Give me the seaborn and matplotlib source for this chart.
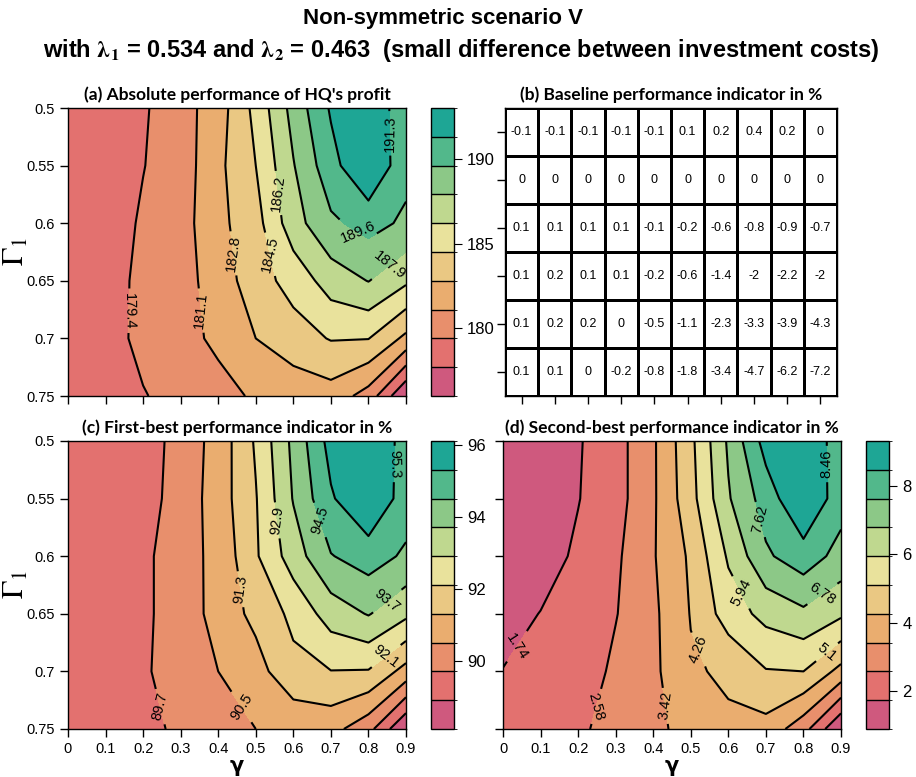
import numpy as np
import pandas as pd
import seaborn as sns
import matplotlib
matplotlib.use('Agg')
import matplotlib.pyplot as plt
from matplotlib.colors import ListedColormap, BoundaryNorm

sns.set_style('ticks')
plt.rcParams['font.family'] = ['Liberation Sans', 'DejaVu Sans']
plt.rcParams['mathtext.fontset'] = 'stix'
for k in ['text.color', 'axes.labelcolor', 'xtick.color', 'ytick.color']:
    plt.rcParams[k] = 'black'

# grid: gamma (columns) x Gamma_1 (rows)
gamma = [0.0, 0.1, 0.2, 0.3, 0.4, 0.5, 0.6, 0.7, 0.8, 0.9]
Gamma1 = [0.5, 0.55, 0.6, 0.65, 0.7, 0.75]

# (a) HQ profit
profit_hq = [
    [178.2, 178.6, 179.2, 180.4, 182.0, 185.0, 188.5, 191.5, 192.3, 190.5],
    [178.2, 178.6, 179.35, 180.2, 182.4, 184.5, 187.8, 190.7, 193.0, 190.1],
    [178.2, 178.6, 179.6, 180.4, 182.35, 183.85, 187.2, 189.3, 190.2, 189.3],
    [178.3, 178.7, 179.8, 180.5, 181.8, 183.8, 185.1, 187.0, 187.95, 186.5],
    [178.3, 178.7, 179.85, 180.6, 181.4, 182.8, 183.8, 184.6, 184.55, 182.4],
    [178.2, 178.6, 179.3, 180.0, 180.6, 181.3, 181.7, 182.1, 180.4, 176.0],
]

# (b) baseline indicator table
baseline_pct = [
    [-0.1, -0.1, -0.1, -0.1, -0.1, 0.1, 0.2, 0.4, 0.2, 0],
    [0, 0, 0, 0, 0, 0, 0, 0, 0, 0],
    [0.1, 0.1, 0.1, 0.1, -0.1, -0.2, -0.6, -0.8, -0.9, -0.7],
    [0.1, 0.2, 0.1, 0.1, -0.2, -0.6, -1.4, -2, -2.2, -2],
    [0.1, 0.2, 0.2, 0, -0.5, -1.1, -2.3, -3.3, -3.9, -4.3],
    [0.1, 0.1, 0, -0.2, -0.8, -1.8, -3.4, -4.7, -6.2, -7.2],
]

# (c) first-best indicator
first_best_pct = [
    [89.0, 89.1, 89.3, 90.0, 90.8, 92.2, 93.9, 95.6, 96.0, 95.0],
    [89.0, 89.1, 89.4, 90.0, 90.88, 92.05, 93.75, 95.2, 96.1, 94.9],
    [89.1, 89.3, 89.5, 90.2, 90.7, 92.0, 93.3, 94.46, 94.87, 94.37],
    [89.1, 89.3, 89.6, 89.95, 90.85, 91.5, 92.3, 93.27, 93.75, 93.08],
    [89.1, 89.3, 89.6, 90.05, 90.5, 91.0, 91.87, 92.08, 92.05, 91.0],
    [89.1, 89.3, 89.55, 89.8, 90.15, 90.5, 90.7, 90.78, 89.97, 88.1],
]

# (d) second-best indicator
second_best_pct = [
    [1.2, 1.35, 1.67, 2.24, 3.3, 4.9, 6.9, 8.8, 9.05, 8.1],
    [1.15, 1.3, 1.71, 2.24, 3.3, 4.8, 6.7, 8.0, 9.3, 7.98],
    [1.2, 1.4, 1.87, 2.43, 3.35, 4.4, 6.05, 7.49, 8.1, 7.31],
    [1.45, 1.76, 2.1, 2.54, 3.25, 4.3, 5.5, 6.2, 6.6, 6.09],
    [1.76, 2.0, 2.1, 2.75, 3.24, 4.16, 4.39, 5.05, 5.1, 3.99],
    [1.95, 2.2, 2.5, 2.75, 3.16, 3.8, 4.12, 3.98, 2.9, 0.9],
]

band_colors = ['#CF597E', '#E3716F', '#E88F6C', '#EAAD6F', '#EAC883',
               '#E9E29C', '#BFD88F', '#8CC887', '#52B88B', '#1EA695']

# where the contour labels sit (gamma, Gamma1), as in the original
label_spots_a = [(0.164, 0.676), (0.35, 0.676), (0.445, 0.626), (0.524, 0.628),
                 (0.555, 0.574), (0.83, 0.626), (0.794, 0.596), (0.856, 0.522)]
label_spots_c = [(0.253, 0.730), (0.466, 0.730), (0.453, 0.629), (0.848, 0.687),
                 (0.555, 0.569), (0.848, 0.638), (0.666, 0.569), (0.875, 0.52)]
label_spots_d = [(0.036, 0.678), (0.244, 0.730), (0.431, 0.730), (0.52, 0.681),
                 (0.857, 0.681), (0.63, 0.632), (0.853, 0.634), (0.675, 0.569),
                 (0.861, 0.52)]

W, H = 916, 777
fig = plt.figure(figsize=(W / 100, H / 100), dpi=100)


def box(x0, y0, x1, y1):
    # pixel box -> figure fraction
    return [x0 / W, 1 - y1 / H, (x1 - x0) / W, (y1 - y0) / H]


title_font = dict(family=['Lato', 'DejaVu Sans'], weight='bold', size=12.5)


def style_axes(ax, xlabels, ylabels):
    ax.set_xlim(0, 0.9)
    ax.set_ylim(0.75, 0.5)
    ax.set_xticks(gamma)
    ax.set_yticks(Gamma1)
    ax.set_xticklabels([f'{g:g}' for g in gamma] if xlabels else [])
    ax.set_yticklabels([f'{g:g}' for g in Gamma1] if ylabels else [])
    ax.tick_params(direction='out', length=6, width=1, labelsize=10.5)
    for s in ax.spines.values():
        s.set_visible(True)
        s.set_color('black')
        s.set_linewidth(1)
    if ylabels:
        ax.set_ylabel(r'$\Gamma_1$', fontsize=22, va='center')
        ax.yaxis.set_label_coords(-0.155, 0.5)
    if xlabels:
        ax.set_xlabel('γ', fontsize=15, fontweight='bold', family='DejaVu Sans', labelpad=0)


def contour_panel(ax, cax, z, fmt, cticks, title, spots, xlabels, ylabels):
    z = np.array(z)
    levels = np.linspace(z.min(), z.max(), 11)
    cmap = ListedColormap(band_colors)
    norm = BoundaryNorm(levels, cmap.N)
    X, Y = np.meshgrid(gamma, Gamma1)
    cf = ax.contourf(X, Y, z, levels=levels, cmap=cmap, norm=norm)
    cs = ax.contour(X, Y, z, levels=levels[1:-1], colors='black', linewidths=1.5)
    ax.clabel(cs, fmt=fmt, fontsize=10.5, inline=True, inline_spacing=4, manual=spots)
    style_axes(ax, xlabels, ylabels)
    ax.set_title(title, pad=6, **title_font)
    cb = fig.colorbar(cf, cax=cax, drawedges=True)
    cb.outline.set_edgecolor('black')
    cb.outline.set_linewidth(1)
    cb.dividers.set_color('black')
    cb.dividers.set_linewidth(1)
    cb.set_ticks(cticks)
    cb.set_ticklabels([f'{t:g}' for t in cticks])
    cax.tick_params(direction='out', length=6, labelsize=12)


def trim(v):
    return f'{v:.2f}'.rstrip('0').rstrip('.')


ax_a = fig.add_axes(box(68, 108, 406, 396))
cax_a = fig.add_axes(box(431, 108, 454, 396))
contour_panel(ax_a, cax_a, profit_hq, '%.1f', [180, 185, 190],
              "(a) Absolute performance of HQ's profit", label_spots_a, False, True)

ax_c = fig.add_axes(box(68, 441, 406, 729))
cax_c = fig.add_axes(box(431, 441, 454, 729))
contour_panel(ax_c, cax_c, first_best_pct, '%.1f', [90, 92, 94, 96],
              '(c) First-best performance indicator in %', label_spots_c, True, True)

ax_d = fig.add_axes(box(503, 441, 841, 729))
cax_d = fig.add_axes(box(866, 441, 889, 729))
contour_panel(ax_d, cax_d, second_best_pct, trim, [2, 4, 6, 8],
              '(d) Second-best performance indicator in %', label_spots_d, True, False)

# (b) table of baseline values
ax_b = fig.add_axes(box(505, 108, 837, 396))
tbl = pd.DataFrame(baseline_pct, index=Gamma1, columns=gamma)
labels = np.array([[f'{v:g}' for v in row] for row in baseline_pct])
sns.heatmap(tbl, ax=ax_b, cmap=ListedColormap(['white']), cbar=False,
            annot=labels, fmt='', linewidths=0.8, linecolor='black',
            annot_kws=dict(size=9, color='black'))
ax_b.set_xticklabels([])
ax_b.set_yticklabels([])
ax_b.set_xlabel('')
ax_b.set_ylabel('')
ax_b.tick_params(direction='out', length=6, width=1)
for s in ax_b.spines.values():
    s.set_visible(True)
    s.set_color('black')
    s.set_linewidth(1)
ax_b.set_title('(b) Baseline performance indicator in %', pad=6, **title_font)

head = dict(family=['Liberation Sans', 'DejaVu Sans'], weight='bold', color='black')
fig.text(0.484, 0.976, 'Non-symmetric scenario V', ha='center', va='center', size=16, **head)
fig.text(0.504, 0.935,
         r'with $\mathbf{\lambda_1}$ = 0.534 and $\mathbf{\lambda_2}$ = 0.463  (small difference between investment costs)',
         ha='center', va='center', size=17, **head)

fig.savefig('out.png', dpi=100)
